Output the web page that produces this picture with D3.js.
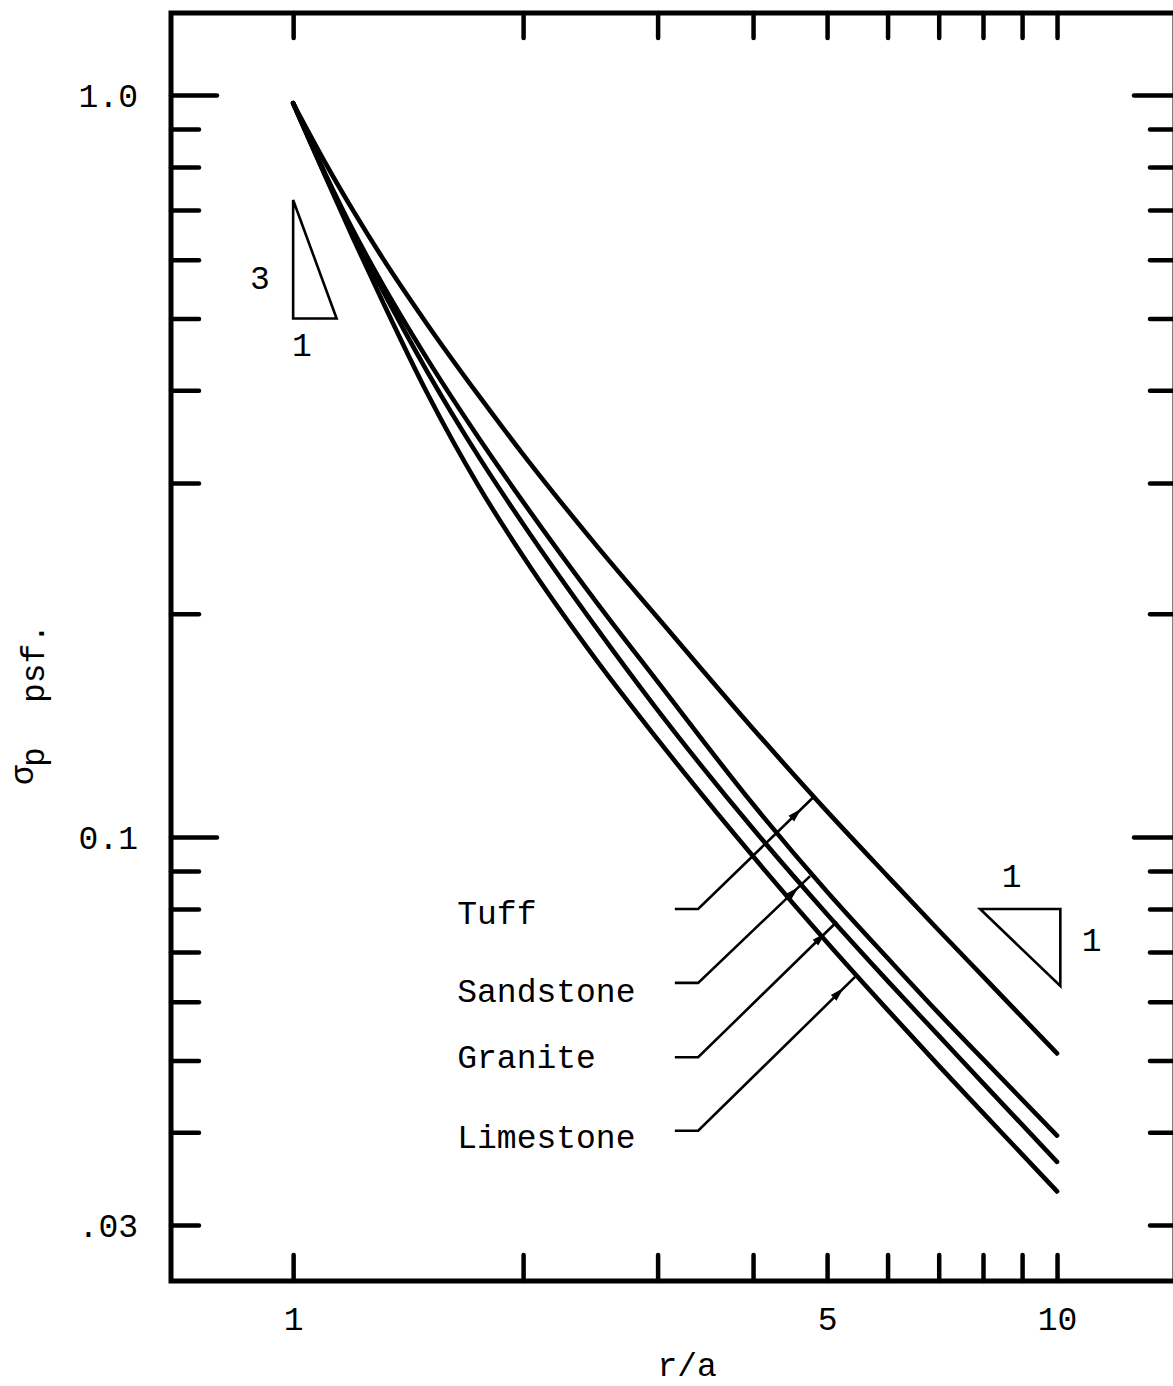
<!DOCTYPE html>
<html><head><meta charset="utf-8">
<script src="https://cdn.jsdelivr.net/npm/d3@7"></script>
<style>html,body{margin:0;padding:0;background:#fff;} svg{display:block}</style>
</head><body><svg id="c" width="1173" height="1386"></svg>
<script>
// ---- data ----
const rValues   = [1, 1.1, 1.2, 1.3, 1.5, 1.75, 2, 2.5, 3, 4, 5, 6, 7, 8, 10];
const tuff      = [0.975, 0.813, 0.697, 0.610, 0.490, 0.3934, 0.328, 0.2465, 0.1977, 0.140, 0.1083, 0.0886, 0.0749, 0.0649, 0.0511];
const sandstone = [0.975, 0.786, 0.655, 0.563, 0.440, 0.345, 0.283, 0.2067, 0.162, 0.1107, 0.0844, 0.0687, 0.0579, 0.0502, 0.0396];
const granite   = [0.975, 0.783, 0.649, 0.5535, 0.423, 0.3254, 0.2642, 0.1908, 0.1483, 0.1026, 0.0787, 0.0640, 0.0540, 0.0466, 0.0365];
const limestone = [0.975, 0.780, 0.639, 0.5355, 0.3954, 0.2969, 0.2390, 0.1726, 0.1354, 0.0942, 0.0721, 0.0585, 0.0492, 0.0425, 0.0333];
const seriesNames = ["Tuff", "Sandstone", "Granite", "Limestone"];

const xTicks = [1, 2, 3, 4, 5, 6, 7, 8, 9, 10];
const xTickLabels = ["1", "", "", "", "5", "", "", "", "", "10"];
const yTicks = [1.0, 0.9, 0.8, 0.7, 0.6, 0.5, 0.4, 0.3, 0.2, 0.1, 0.09, 0.08, 0.07, 0.06, 0.05, 0.04, 0.03];
const yTickLabels = ["1.0", "", "", "", "", "", "", "", "", "0.1", "", "", "", "", "", "", ".03"];
const yMajorTicks = [1.0, 0.1];

// leader / annotation values (data units)
const leaderTipR   = [4.79, 4.75, 5.15, 5.44];
const leaderTipS   = [0.113, 0.0886, 0.0769, 0.0648];
const leaderRowS   = [0.080, 0.0636, 0.0505, 0.0402];
const leaderStartR = 3.16, leaderElbowR = 3.39;
const labelR = 1.64;
const labelS = [0.0790, 0.0620, 0.0505, 0.0394];
const slopeTriLeft  = [[1.0, 0.722], [1.0, 0.5], [1.14, 0.5]];
const slopeTriRight = [[7.93, 0.080], [10.1, 0.080], [10.1, 0.063]];
const slopeLabels = [
  {t: "3", r: 0.905, s: 0.567}, {t: "1", r: 1.027, s: 0.460},
  {t: "1", r: 8.72, s: 0.0886}, {t: "1", r: 11.1, s: 0.0727}
];
const xTitleR = 3.28;
const xDomain = [0.692, 14.27];
const yDomain = [1.29, 0.02522];

// ---- layout ----
const plot = {left: 171, right: 1175, top: 13, bottom: 1281};
const FONT = "'Liberation Mono', 'DejaVu Sans Mono', monospace";
const FS = 33;

const svg = d3.select("#c");
const x = d3.scaleLog().domain(xDomain).range([plot.left, plot.right]);
const y = d3.scaleLog().domain(yDomain).range([plot.top, plot.bottom]);

function styleAxis(g) {
  g.attr("font-family", FONT).attr("font-size", FS);
  g.select(".domain").remove();
  g.selectAll(".tick line").attr("stroke", "#000").attr("stroke-width", 4.5).attr("stroke-linecap", "round");
  g.selectAll(".tick text").attr("fill", "#000");
}

// bottom axis
svg.append("g").attr("transform", `translate(0,${plot.bottom})`)
  .call(d3.axisBottom(x).tickValues(xTicks).tickSize(-26).tickFormat((d, i) => xTickLabels[i]))
  .call(styleAxis)
  .call(g => g.selectAll(".tick text").attr("y", 49).attr("dy", null));

// top axis
svg.append("g").attr("transform", `translate(0,${plot.top})`)
  .call(d3.axisTop(x).tickValues(xTicks).tickSize(-25).tickFormat(() => ""))
  .call(styleAxis);

// left axis
svg.append("g").attr("transform", `translate(${plot.left},0)`)
  .call(d3.axisLeft(y).tickValues(yTicks).tickSize(-28).tickFormat((d, i) => yTickLabels[i]))
  .call(styleAxis)
  .call(g => {
    g.selectAll(".tick line").filter(d => yMajorTicks.includes(d)).attr("x2", 46);
    g.selectAll(".tick text").attr("x", -33).attr("dy", "0.35em");
  });

// right axis
svg.append("g").attr("transform", `translate(${plot.right},0)`)
  .call(d3.axisRight(y).tickValues(yTicks).tickSize(-25).tickFormat(() => ""))
  .call(styleAxis)
  .call(g => g.selectAll(".tick line").filter(d => yMajorTicks.includes(d)).attr("x2", -41));

// frame
svg.append("rect")
  .attr("x", plot.left).attr("y", plot.top)
  .attr("width", plot.right - plot.left).attr("height", plot.bottom - plot.top)
  .attr("fill", "none").attr("stroke", "#000").attr("stroke-width", 5);

// axis titles
svg.append("text").attr("x", x(xTitleR)).attr("y", 1376)
  .attr("text-anchor", "middle").attr("font-family", FONT).attr("font-size", FS).text("r/a");

const yt = svg.append("g").attr("transform", "translate(44,0) rotate(-90)")
  .attr("font-family", FONT).attr("font-size", FS);
yt.append("text").attr("x", -785).attr("y", -11).text("σ");
yt.append("text").attr("x", -767).attr("y", 0).text("p");
yt.append("text").attr("x", -703).attr("y", 0).text("psf.");

// curves
const allSeries = [tuff, sandstone, granite, limestone];
const line = d3.line().x(d => x(d[0])).y(d => y(d[1])).curve(d3.curveMonotoneX);
svg.append("g").selectAll("path").data(allSeries).join("path")
  .attr("d", s => line(rValues.map((r, i) => [r, s[i]])))
  .attr("fill", "none").attr("stroke", "#000").attr("stroke-width", 4.6)
  .attr("stroke-linecap", "round").attr("stroke-linejoin", "round");

// arrow marker
svg.append("defs").append("marker").attr("id", "arr")
  .attr("markerUnits", "userSpaceOnUse").attr("viewBox", "0 -5 32 10")
  .attr("markerWidth", 32).attr("markerHeight", 10)
  .attr("refX", 30).attr("refY", 0).attr("orient", "auto")
  .append("path").attr("d", "M0,-4L14,0L0,4Z").attr("fill", "#000");

// leaders
svg.append("g").selectAll("path").data(seriesNames).join("path")
  .attr("d", (n, i) => `M${x(leaderStartR)},${y(leaderRowS[i])}L${x(leaderElbowR)},${y(leaderRowS[i])}L${x(leaderTipR[i])},${y(leaderTipS[i])}`)
  .attr("fill", "none").attr("stroke", "#000").attr("stroke-width", 2.6)
  .attr("marker-end", "url(#arr)");

// labels
svg.append("g").selectAll("text").data(seriesNames).join("text")
  .attr("x", x(labelR)).attr("y", (n, i) => y(labelS[i]) + 11)
  .attr("font-family", FONT).attr("font-size", FS).text(n => n);

// slope triangles
svg.append("g").selectAll("path").data([slopeTriLeft, slopeTriRight]).join("path")
  .attr("d", t => "M" + t.map(p => `${x(p[0])},${y(p[1])}`).join("L") + "Z")
  .attr("fill", "none").attr("stroke", "#000").attr("stroke-width", 2.6).attr("stroke-linejoin", "miter");

svg.append("g").selectAll("text").data(slopeLabels).join("text")
  .attr("x", d => x(d.r)).attr("y", d => y(d.s) + 11)
  .attr("text-anchor", "middle").attr("font-family", FONT).attr("font-size", FS).text(d => d.t);
</script>
</body></html>
